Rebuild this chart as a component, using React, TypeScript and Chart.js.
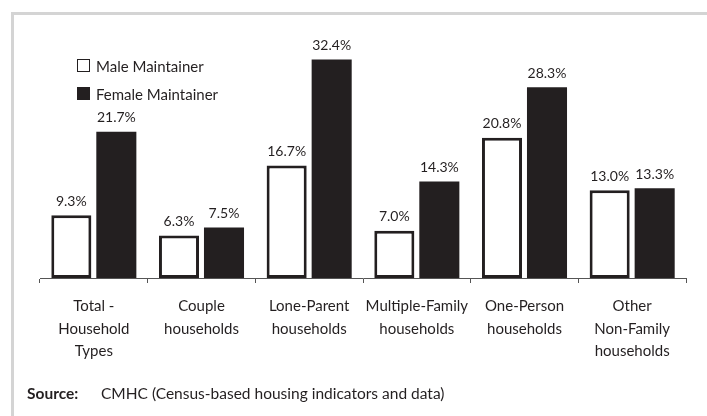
import React, { useEffect, useRef } from "react";
import { Chart, registerables } from "chart.js";

Chart.register(...registerables);

const categories: string[][] = [
  ["Total -", "Household", "Types"],
  ["Couple", "households"],
  ["Lone-Parent", "households"],
  ["Multiple-Family", "households"],
  ["One-Person", "households"],
  ["Other", "Non-Family", "households"],
];
const maleValues = [9.3, 6.3, 16.7, 7.0, 20.8, 13.0];
const femaleValues = [21.7, 7.5, 32.4, 14.3, 28.3, 13.3];
const seriesNames = ["Male Maintainer", "Female Maintainer"];

const INK = "#231f20";
const FONT = "Lato, 'Open Sans', sans-serif";

const valueLabels = {
  id: "valueLabels",
  afterDatasetsDraw(chart: any) {
    const ctx = chart.ctx;
    ctx.save();
    ctx.fillStyle = INK;
    ctx.font = `14px ${FONT}`;
    ctx.textAlign = "center";
    ctx.textBaseline = "middle";
    chart.data.datasets.forEach((ds: any, i: number) => {
      const meta = chart.getDatasetMeta(i);
      meta.data.forEach((bar: any, j: number) => {
        const v = ds.data[j] as number;
        ctx.fillText(v.toFixed(1) + "%", bar.x, bar.y - 14);
      });
    });
    ctx.restore();
  },
};

const customLegend = {
  id: "customLegend",
  afterDraw(chart: any) {
    const ctx = chart.ctx;
    ctx.save();
    ctx.font = `15px ${FONT}`;
    ctx.textBaseline = "middle";
    ctx.textAlign = "left";
    const rows = [66, 94];
    chart.data.datasets.forEach((ds: any, i: number) => {
      const y = rows[i];
      if (i === 0) {
        ctx.fillStyle = "#fff";
        ctx.fillRect(77, y - 7, 13, 13);
        ctx.strokeStyle = INK;
        ctx.lineWidth = 1;
        ctx.strokeRect(77.5, y - 6.5, 12, 12);
      } else {
        ctx.fillStyle = INK;
        ctx.fillRect(77, y - 7, 13, 13);
      }
      ctx.fillStyle = INK;
      ctx.fillText(ds.label, 96, y + 1);
    });
    ctx.restore();
  },
};

export default function App() {
  const ref = useRef<HTMLCanvasElement>(null);
  useEffect(() => {
    if (!ref.current) return;
    const chart = new Chart(ref.current, {
      type: "bar",
      data: {
        labels: categories,
        datasets: [
          {
            label: seriesNames[0],
            data: maleValues,
            backgroundColor: "#ffffff",
            borderColor: INK,
            borderWidth: 3,
            borderSkipped: false,
          },
          {
            label: seriesNames[1],
            data: femaleValues,
            backgroundColor: INK,
            borderColor: INK,
            borderWidth: 0,
          },
        ],
      },
      options: {
        responsive: false,
        animation: false,
        layout: { padding: { top: 42, left: 40, right: 21, bottom: 0 } },
        datasets: {
          bar: { categoryPercentage: 0.836, barPercentage: 0.89 },
        },
        plugins: {
          legend: { display: false },
          tooltip: { enabled: false },
        },
        scales: {
          x: {
            grid: {
              display: true,
              drawOnChartArea: false,
              drawTicks: true,
              tickLength: 5,
              color: "#555",
              offset: true,
            },
            border: { display: true, color: "#555", width: 1 },
            ticks: {
              color: INK,
              font: { family: FONT, size: 15, lineHeight: 1.5 },
              padding: 12,
              maxRotation: 0,
              autoSkip: false,
            },
            afterFit: (s: any) => {
              s.height = 138;
            },
          },
          y: {
            display: false,
            min: 0,
            max: 35,
          },
        },
      },
      plugins: [valueLabels, customLegend],
    });
    return () => chart.destroy();
  }, []);

  return (
    <div
      style={{
        position: "absolute",
        left: 0,
        top: 0,
        width: 707,
        height: 416,
        background: "#fff",
        overflow: "hidden",
      }}
    >
      <div
        style={{
          position: "absolute",
          left: 11,
          top: 12,
          width: 720,
          height: 420,
          borderLeft: "3px solid #d4d4d4",
          borderTop: "3px solid #d4d4d4",
        }}
      />
      <canvas
        ref={ref}
        width={707}
        height={416}
        style={{ position: "absolute", left: 0, top: 0 }}
      />
      <div
        style={{
          position: "absolute",
          left: 27,
          top: 383,
          fontFamily: FONT,
          fontSize: 15.5,
          lineHeight: "20px",
          color: INK,
          whiteSpace: "nowrap",
        }}
      >
        <span style={{ fontWeight: "bold", display: "inline-block", width: 74 }}>Source:</span>
        <span>CMHC (Census-based housing indicators and data)</span>
      </div>
    </div>
  );
}
